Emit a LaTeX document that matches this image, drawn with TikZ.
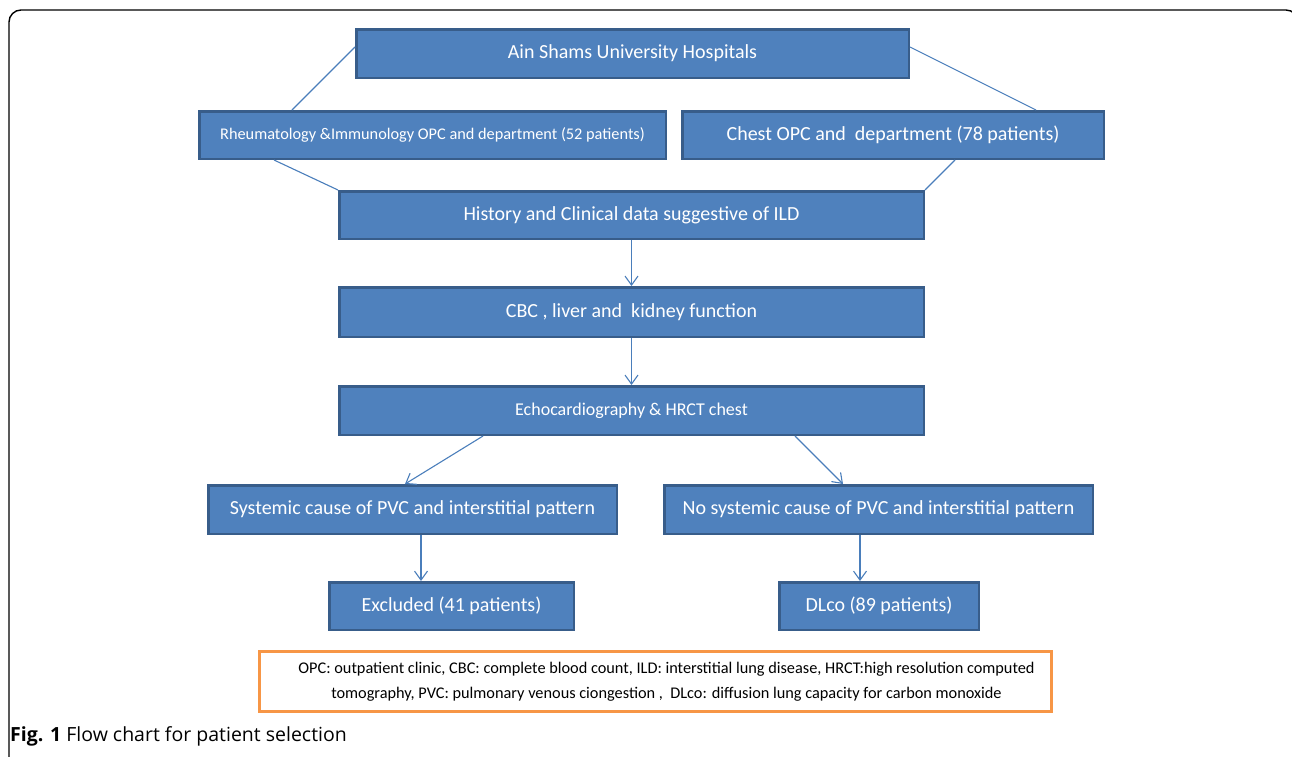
\documentclass[tikz,border=0pt]{standalone}
\usepackage{fontspec}
\setmainfont{Carlito}
\newfontfamily\capfont{Open Sans}
\usetikzlibrary{arrows.meta,calc}
\definecolor{boxfill}{HTML}{4F81BD}
\definecolor{boxline}{HTML}{385D8A}
\definecolor{conn}{HTML}{4A7EBB}
\definecolor{legline}{HTML}{F79646}
\tikzset{
  box/.style={draw=boxline, fill=boxfill, line width=2.5pt, inner sep=0pt, text=white, font=\fontsize{20}{24}\selectfont},
  link/.style={draw=conn, line width=1.1pt},
  arr/.style={link, -{Straight Barb[length=9pt,width=13pt,line width=1.1pt]}},
  legend/.style={draw=legline, line width=2.8pt, fill=white, inner sep=0pt, align=center, font=\fontsize{16.3}{25}\selectfont}
}
\begin{document}
\begin{tikzpicture}[x=1pt,y=-1pt]
\useasboundingbox (0,0) rectangle (1292,756);
\clip (0,0) rectangle (1292,756);
\draw[line width=1.4pt, rounded corners=12pt] (9,770) -- (9,10) -- (1298,10) -- (1298,770);
\node[box, minimum width=552.5pt, minimum height=48.5pt] (ain) at (632.5,53.5) {Ain Shams University Hospitals};
\node[box, minimum width=466.5pt, minimum height=47.5pt, font=\fontsize{16.3}{19}\selectfont] (rheum) at (432.5,135) {Rheumatology \&Immunology OPC and department (52 patients)};
\node[box, minimum width=421.5pt, minimum height=47.5pt] (chest) at (893,135) {Chest OPC and\ \ department (78 patients)};
\node[box, minimum width=584.5pt, minimum height=47.5pt] (hist) at (631.5,215) {History and Clinical data suggestive of ILD};
\node[box, minimum width=584.5pt, minimum height=49.5pt] (cbc) at (631.5,312) {CBC , liver and\ \ kidney function};
\node[box, minimum width=584.5pt, minimum height=48.5pt, font=\fontsize{18}{21}\selectfont] (echo) at (631.5,410.5) {Echocardiography \& HRCT chest};
\node[box, minimum width=408.5pt, minimum height=48.5pt] (sys) at (412.5,509.5) {Systemic cause of PVC and interstitial pattern};
\node[box, minimum width=428.5pt, minimum height=48.5pt] (nosys) at (878.5,509.5) {No systemic cause of PVC and interstitial pattern};
\node[box, minimum width=244.5pt, minimum height=47.5pt] (excl) at (451.5,606) {Excluded (41 patients)};
\node[box, minimum width=199.5pt, minimum height=47.5pt] (dlco) at (879,606) {DLco (89 patients)};
\node[legend, minimum width=792pt, minimum height=60pt] (leg) at (655.5,681.5) {\hspace*{22pt}OPC: outpatient clinic, CBC: complete blood count, ILD: interstitial lung disease, HRCT:high resolution computed\\\hspace*{22pt}tomography, PVC: pulmonary venous ciongestion ,\ \ DLco: diffusion lung capacity for carbon monoxide};
\node[anchor=west, inner sep=0pt, font=\capfont\fontsize{19.5}{23}\selectfont] (cap) at (10,736) {\textbf{Fig. 1} Flow chart for patient selection};
% connectors
\draw[link] ([yshift=6.5pt]ain.west) -- ($(rheum.north west)+(94,0)$);
\draw[link] ([yshift=6.5pt]ain.east) -- ($(chest.north west)+(355,0)$);
\draw[link] ($(rheum.south west)+(76,0)$) -- (hist.north west);
\draw[link] ($(chest.south west)+(274,0)$) -- (hist.north east);
\draw[arr] (hist.south) -- (cbc.north);
\draw[arr] (cbc.south) -- (echo.north);
\draw[arr] ($(echo.south west)+(145,0)$) -- ($(sys.north west)+(198,0)$);
\draw[arr] ($(echo.south west)+(457,0)$) -- ($(nosys.north west)+(180,0)$);
\draw[arr] ($(sys.south west)+(214,0)$) -- ($(excl.north west)+(93,0)$);
\draw[arr] ($(nosys.south west)+(197,0)$) -- ($(dlco.north west)+(82,0)$);
\end{tikzpicture}
\end{document}
